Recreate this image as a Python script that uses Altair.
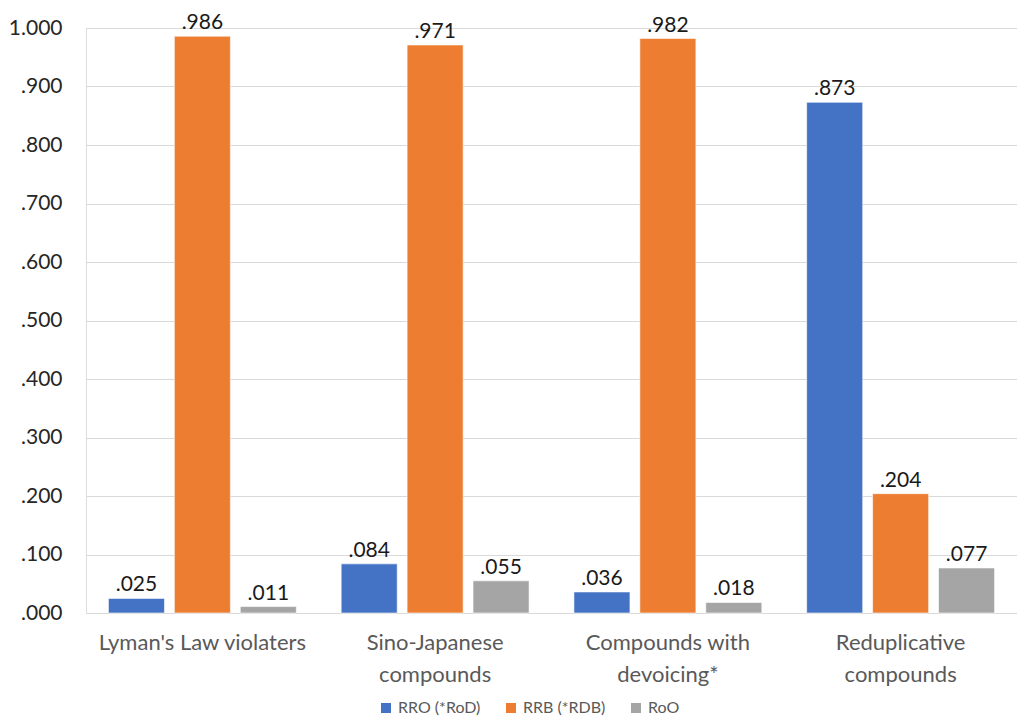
import altair as alt
import pandas as pd

categories = ["Lyman's Law violaters", "Sino-Japanese\ncompounds", "Compounds with\ndevoicing*", "Reduplicative\ncompounds"]
series = ["RRO (*RoD)", "RRB (*RDB)", "RoO"]
rro = [0.025, 0.084, 0.036, 0.873]
rrb = [0.986, 0.971, 0.982, 0.204]
roo = [0.011, 0.055, 0.018, 0.077]
colors = ["#4472C4", "#ED7D31", "#A5A5A5"]

rows = []
for i, c in enumerate(categories):
    for s, vals in zip(series, [rro, rrb, roo]):
        v = vals[i]
        rows.append({"cat": c, "series": s, "value": v, "label": f"{v:.3f}".lstrip("0")})
df = pd.DataFrame(rows)

FONT = "Lato"

x = alt.X("cat:N", sort=categories, title=None,
          scale=alt.Scale(paddingInner=0, paddingOuter=0),
          axis=alt.Axis(labelExpr="split(datum.label, '\\n')", labelAngle=0,
                        labelFontSize=22, labelColor="#595959", labelFont=FONT,
                        labelPadding=19, labelLineHeight=32, domain=False, ticks=False,
                        labelBaseline="top", labelLimit=0))
xo = alt.XOffset("series:N", sort=series,
                 scale=alt.Scale(paddingInner=0.15, paddingOuter=0.34))
y = alt.Y("value:Q", title=None,
          scale=alt.Scale(domain=[0, 1], nice=False),
          axis=alt.Axis(values=[i / 10 for i in range(11)], tickCount=11,
                        labelExpr="datum.value >= 1 ? format(datum.value, '.3f') : substring(format(datum.value, '.3f'), 1)",
                        labelFontSize=21, labelColor="#262626", labelFont=FONT,
                        labelPadding=24, domain=False, ticks=False,
                        gridColor="#D9D9D9", gridWidth=1))

bars = alt.Chart(df).mark_bar(stroke="white", strokeWidth=0.6).encode(
    x=x, xOffset=xo, y=y,
    color=alt.Color("series:N", sort=series,
                    scale=alt.Scale(domain=series, range=colors),
                    legend=alt.Legend(title=None, orient="none", direction="horizontal",
                                      legendX=292, legendY=672, symbolType="square",
                                      symbolSize=100, labelFontSize=16, labelFont=FONT,
                                      labelColor="#595959", columnPadding=22,
                                      symbolStrokeWidth=0)),
)

text = alt.Chart(df).mark_text(baseline="bottom", dy=-3, fontSize=21, font=FONT, color="#1a1a1a").encode(
    x=x, xOffset=xo, y=y, text="label:N"
)

chart = alt.layer(bars, text).properties(
    width=931, height=585,
    autosize=alt.AutoSizeParams(type="none"),
    padding={"left": 86, "top": 28, "right": 0, "bottom": 106},
).configure_view(stroke=None).configure(background="white")

chart.save("out.html", embed_options={"renderer": "svg", "actions": False})
